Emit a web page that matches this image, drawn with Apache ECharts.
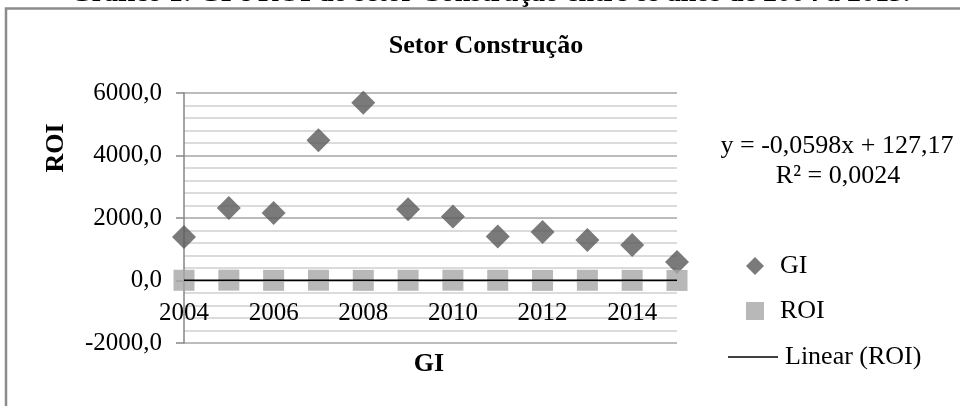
<!DOCTYPE html>
<html>
<head>
<meta charset="utf-8">
<script src="https://cdn.jsdelivr.net/npm/echarts@6/dist/echarts.min.js"></script>
<style>
html,body{margin:0;padding:0;background:#fff;}
#chart{width:960px;height:406px;}
</style>
</head>
<body>
<div id="chart"></div>
<script>
const years = [2004, 2005, 2006, 2007, 2008, 2009, 2010, 2011, 2012, 2013, 2014, 2015];
const giValues = [1390, 2320, 2160, 4490, 5690, 2280, 2050, 1410, 1550, 1300, 1140, 590];
const roiValues = [8, 12, 5, 9, 4, 6, 10, 7, 3, 8, 5, 2];
const trendX = [2004, 2015];
const trendY = [7.3, 6.7];
const yTicks = [-2000, 0, 2000, 4000, 6000];
const captionText = 'Gráfico 1: GI e ROI do setor Construção entre os anos de 2004 a 2015.';
const chartTitle = 'Setor Construção';
const equationText = 'y = -0,0598x + 127,17';
const r2Text = 'R² = 0,0024';

const serif = 'Liberation Serif';
const chart = echarts.init(document.getElementById('chart'));
chart.setOption({
  backgroundColor: '#fff',
  animation: false,
  grid: { left: 184, right: 283, top: 93, bottom: 63 },
  xAxis: {
    type: 'value',
    min: years[0],
    max: years[years.length - 1],
    interval: 2,
    offset: -63,
    axisLine: { onZero: false, lineStyle: { color: '#868686', width: 1 } },
    axisTick: { show: false },
    splitLine: { show: false },
    axisLabel: {
      showMaxLabel: false,
      margin: 21,
      color: '#000',
      fontFamily: serif,
      fontSize: 25,
      formatter: v => (v % 2 === 0 ? String(v) : '')
    }
  },
  yAxis: {
    type: 'value',
    min: yTicks[0],
    max: yTicks[yTicks.length - 1],
    interval: 2000,
    axisLine: { show: true, lineStyle: { color: '#868686', width: 1.5 } },
    axisTick: { show: true, inside: false, length: 8, lineStyle: { color: '#868686', width: 1.5 } },
    splitLine: { show: true, lineStyle: { color: '#a6a6a6', width: 1.5 } },
    minorTick: { show: false, splitNumber: 5 },
    minorSplitLine: { show: true, lineStyle: { color: '#d0d0d0', width: 1.5 } },
    axisLabel: {
      margin: 22,
      color: '#000',
      fontFamily: serif,
      fontSize: 25,
      formatter: v => v.toFixed(1).replace('.', ',')
    }
  },
  legend: [
    {
      orient: 'vertical',
      left: 741,
      top: 246,
      itemWidth: 18,
      itemHeight: 18,
      itemGap: 15,
      textStyle: { color: '#000', fontFamily: serif, fontSize: 26, lineHeight: 30, padding: [0, 0, 0, 11] },
      data: [
        { name: 'GI', icon: 'diamond' },
        { name: 'ROI', icon: 'rect' }
      ]
    },
    {
      orient: 'vertical',
      left: 723,
      top: 337,
      itemWidth: 50,
      itemHeight: 1.5,
      itemGap: 0,
      textStyle: { color: '#000', fontFamily: serif, fontSize: 26, lineHeight: 30, padding: [0, 0, 0, 2] },
      data: [
        { name: 'Linear (ROI)', icon: 'rect' }
      ]
    }
  ],
  series: [
    {
      name: 'GI',
      type: 'scatter',
      symbol: 'diamond',
      symbolSize: 24,
      itemStyle: { color: '#595959' },
      z: 3,
      data: years.map((y, i) => [y, giValues[i]])
    },
    {
      name: 'ROI',
      type: 'scatter',
      symbol: 'rect',
      symbolSize: 21,
      itemStyle: { color: '#a6a6a6' },
      z: 4,
      data: years.map((y, i) => [y, roiValues[i]])
    },
    {
      name: 'Linear (ROI)',
      type: 'line',
      symbol: 'none',
      showSymbol: false,
      lineStyle: { color: '#000', width: 1.5 },
      itemStyle: { color: '#000' },
      z: 5,
      data: trendX.map((x, i) => [x, trendY[i]])
    }
  ],
  graphic: [
    {
      type: 'rect',
      shape: { x: 6, y: 8.5, width: 1000, height: 500 },
      style: { fill: 'none', stroke: '#8c8c8c', lineWidth: 2.5 },
      z: -10
    },
    {
      type: 'text',
      x: 490, y: 7.5,
      style: { text: captionText, fill: '#000', font: 'bold 28px "Liberation Serif"', textAlign: 'center', textVerticalAlign: 'bottom' },
      z: 20
    },
    {
      type: 'text',
      x: 486, y: 46,
      style: { text: chartTitle, fill: '#000', font: 'bold 26px "Liberation Serif"', textAlign: 'center', textVerticalAlign: 'middle' }
    },
    {
      type: 'text',
      x: 56, y: 148,
      rotation: Math.PI / 2,
      style: { text: 'ROI', fill: '#000', font: 'bold 26px "Liberation Serif"', textAlign: 'center', textVerticalAlign: 'middle' }
    },
    {
      type: 'text',
      x: 429, y: 364,
      style: { text: 'GI', fill: '#000', font: 'bold 26px "Liberation Serif"', textAlign: 'center', textVerticalAlign: 'middle' }
    },
    {
      type: 'text',
      x: 837, y: 146,
      style: { text: equationText, fill: '#000', font: '26px "Liberation Serif"', textAlign: 'center', textVerticalAlign: 'middle' }
    },
    {
      type: 'text',
      x: 838, y: 176,
      style: { text: r2Text, fill: '#000', font: '26px "Liberation Serif"', textAlign: 'center', textVerticalAlign: 'middle' }
    }
  ]
});
</script>
</body>
</html>
